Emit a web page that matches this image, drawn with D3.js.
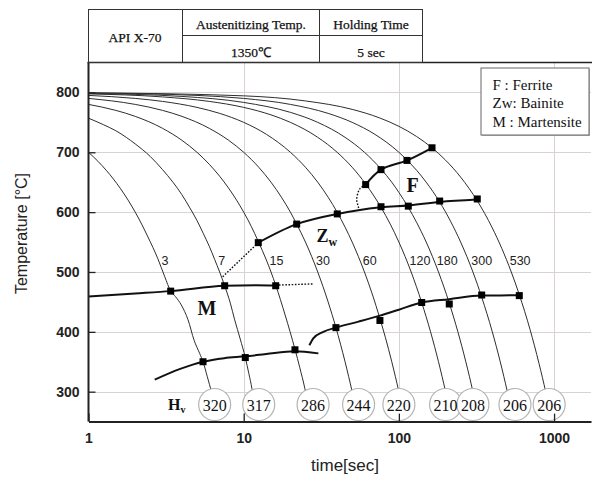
<!DOCTYPE html>
<html>
<head>
<meta charset="utf-8">
<script src="https://cdn.jsdelivr.net/npm/d3@7/dist/d3.min.js"></script>
<style>
  body { margin: 0; background: #fff; }
  svg { display: block; }
</style>
</head>
<body>
<svg id="chart" width="592" height="478"></svg>
<script>
// ---- CCT diagram data: time [s], temperature [°C] ----
const timeTicks = [1, 10, 100, 1000];
const tempTicks = [300, 400, 500, 600, 700, 800];

// cooling-curve names (t8/5 in seconds) and the Vickers hardness of each
const rateLabels = ["3", "7", "15", "30", "60", "120", "180", "300", "530"];
const hardness = [320, 317, 286, 244, 220, 210, 208, 206, 206];
const hardnessAt = [6.5, 12.5, 28, 55, 100, 200, 300, 560, 930];

// cooling curves
const cool3 = [[1,700],[1.15,685],[1.3,670],[1.45,655],[1.6,640],[1.8,620],[2,600],[2.2,580],[2.4,560],[2.6,541],[2.8,522],[3.1,492],[3.385,468],[3.63,459],[3.96,445],[4.38,420],[4.79,386],[5.2,364],[5.47,350],[5.83,325],[6.2,300],[6.4,288]];
const cool7 = [[1,757],[1.25,746],[1.5,736],[1.75,725],[2,714],[2.5,693],[3,671],[3.5,650],[4,629],[4.5,607],[5,586],[5.5,564],[6,543],[6.5,521],[7,500],[7.54,477],[8.2,448],[8.75,420],[9.5,388],[10.24,357],[10.8,330],[11.3,305],[11.5,292]];
const cool15 = [[1,780],[1.5,770],[2,760],[3,740],[4,720],[5,700],[6,680],[7,660],[8,640],[9,620],[10,600],[11.2,576],[12.42,551],[14,520],[15,500],[16.08,478],[18.5,428],[21.4,371],[23,340],[24.8,305],[25.4,292]];
const cool30 = [[1,790],[2,780],[3,770],[4,760],[6,740],[8,720],[10,700],[12.5,675],[15,650],[17.5,625],[20,600],[21.95,580],[25,550],[30,500],[35,450],[39.3,407],[45,350],[50,300],[51.2,288]];
const cool60 = [[1,795],[2,790],[3,785],[5,775],[7,765],[10,750],[14,730],[20,700],[25,675],[30,650],[35,625],[40.1,599.5],[45,575],[50,550],[60,500],[67,465],[75.5,422],[82,390],[90,350],[100,300],[102.4,288]];
const cool120 = [[1,797.5],[3,792.5],[6,785],[10,775],[15,762.5],[20,750],[30,725],[40,700],[50,675],[61.1,647],[76.7,608],[88,580],[100,550],[120,500],[140.3,449],[160,400],[180,350],[200,300],[204.8,288]];
const cool180 = [[1,798.3],[4,793.3],[10,783.3],[20,766.7],[30,750],[45,725],[60,700],[76.7,672],[90,650],[100,633],[115,608],[130,583],[150,550],[180,500],[211.2,448],[240,400],[270,350],[300,300],[307,288]];
const cool300 = [[1,799],[5,795],[10,790],[20,780],[35,765],[50,750],[70,730],[100,700],[112.8,687],[130,670],[150,650],[183.2,617],[215,585],[250,550],[300,500],[341.7,458],[400,400],[450,350],[500,300],[512,288]];
const cool530 = [[1,799.4],[10,794.3],[25,785.8],[50,771.7],[75,757.5],[100,743.4],[130,726.4],[163.5,707.5],[200,686.8],[250,658.5],[320,618.9],[400,573.6],[460,539.6],[530,500],[597,462],[700,404],[800,347],[883,300],[904,288]];
const coolingCurves = [cool3, cool7, cool15, cool30, cool60, cool120, cool180, cool300, cool530];

// transformation lines
const msLine = [[1,459],[2,464],[3.385,468],[7.54,477],[12,478],[16.08,477.5]];
const msDotted = [[16.08,478],[28,480]];
const mfLine = [[2.67,320],[3.9,338],[5.47,350],[7.5,356],[10.24,359],[14,363],[21.4,367.5],[30.3,364]];
const zwStartLine = [[12.42,549],[21.95,580],[40.1,597],[76.7,608],[115,611],[183.2,617],[320,621]];
const zwDotted = [[7.32,492],[12.42,549]];
const fStartLine = [[61.1,646],[76.7,671],[112.8,686.4],[163.5,707.5]];
const fDotted = [[61.1,646],[56.5,640],[54.8,634],[53.5,620],[54.8,609],[55.5,603]];
const bfLine = [[26.5,377.5],[28.1,389],[32.6,400],[39.3,407],[55,417],[75.5,427],[100,437],[140.3,449],[211,454.5],[341.7,460.5],[597,461]];

// measured transformation points
const msPts = [[3.385,468],[7.54,477],[16.08,477]];
const mfPts = [[5.47,350],[10.24,357],[21.4,370]];
const zwPts = [[12.42,549],[21.95,580],[40.1,597]];
const fsPts = [[61.1,646],[76.7,671],[112.8,686.4],[163.5,707.5]];
const fePts = [[76.7,609],[115,610],[183.2,618.5],[320,622]];
const bfPts = [[39.3,407],[75.5,419],[140.3,449],[211.2,446.5],[341.7,461.5],[597,460.5]];

// ---- layout ----
const svg = d3.select("#chart");
const plotL = 88.5, plotR = 591, plotT = 62.5, plotB = 421.6;
const x = d3.scaleLog().domain([1, 1730]).range([plotL, plotR]);
const y = d3.scaleLinear().domain([250, 850]).range([plotB, plotT]);

const sans = "'Liberation Sans', Arial, sans-serif";
const serif = "'Liberation Serif', 'Times New Roman', serif";

svg.append("rect").attr("width", 592).attr("height", 478).attr("fill", "#fff");

// grid
const grid = svg.append("g").attr("stroke", "#d8d2d8").attr("stroke-width", 1);
grid.selectAll("line.v").data(timeTicks.slice(1)).join("line").attr("class", "v")
  .attr("x1", d => Math.round(x(d)) + 0.5).attr("x2", d => Math.round(x(d)) + 0.5)
  .attr("y1", plotT).attr("y2", plotB);
grid.selectAll("line.h").data(tempTicks).join("line").attr("class", "h")
  .attr("x1", plotL).attr("x2", plotR)
  .attr("y1", d => Math.round(y(d)) + 0.5).attr("y2", d => Math.round(y(d)) + 0.5);

const smooth = d3.line().x(d => x(d[0])).y(d => y(d[1])).curve(d3.curveMonotoneX);
const loose = d3.line().x(d => x(d[0])).y(d => y(d[1])).curve(d3.curveCatmullRom);
const straight = d3.line().x(d => x(d[0])).y(d => y(d[1]));

// cooling curves
svg.append("g").selectAll("path").data(coolingCurves).join("path")
  .attr("d", smooth).attr("fill", "none").attr("stroke", "#2e2e2e").attr("stroke-width", 1);

// hardness circles
const hv = svg.append("g");
const rowY = 404.5;
hv.selectAll("circle").data(hardness).join("circle")
  .attr("cx", (d, i) => x(hardnessAt[i])).attr("cy", rowY).attr("r", 16)
  .attr("fill", "#fff").attr("stroke", "#b4b4b4").attr("stroke-width", 1.2);
hv.selectAll("text").data(hardness).join("text")
  .attr("x", (d, i) => x(hardnessAt[i])).attr("y", rowY + 6)
  .attr("text-anchor", "middle").attr("font-family", serif).attr("font-size", 16)
  .attr("fill", "#111").text(d => d);
const hvTitle = svg.append("text").attr("x", x(3.25)).attr("y", rowY + 5)
  .attr("font-family", serif).attr("font-weight", "bold").attr("font-size", 16).attr("fill", "#111");
hvTitle.append("tspan").text("H");
hvTitle.append("tspan").attr("font-size", 10).attr("dy", 3).text("v");

// transformation lines
const bold = svg.append("g").attr("fill", "none").attr("stroke", "#111").attr("stroke-width", 2);
[msLine, mfLine, bfLine].forEach(l => bold.append("path").attr("d", smooth(l)));
bold.append("path").attr("d", loose(zwStartLine));
bold.append("path").attr("d", loose(fStartLine));

const dots = svg.append("g").attr("fill", "none").attr("stroke", "#111")
  .attr("stroke-width", 1.4).attr("stroke-dasharray", "1.6,1.6");
dots.append("path").attr("d", straight(msDotted));
dots.append("path").attr("d", straight(zwDotted));
dots.append("path").attr("d", loose(fDotted));

// markers
const allPts = [].concat(msPts, mfPts, zwPts, fsPts, fePts, bfPts);
svg.append("g").selectAll("rect").data(allPts).join("rect")
  .attr("x", d => x(d[0]) - 3.5).attr("y", d => y(d[1]) - 3.5)
  .attr("width", 7).attr("height", 7).attr("fill", "#000");

// curve names next to each curve
function xAtTemp(pts, T) {
  for (let i = 1; i < pts.length; i++) {
    const a = pts[i - 1], b = pts[i];
    if ((a[1] - T) * (b[1] - T) <= 0) {
      const f = (a[1] - T) / (a[1] - b[1]);
      return x(a[0]) + f * (x(b[0]) - x(a[0]));
    }
  }
  return x(pts[0][0]);
}
const labelT = 519;
svg.append("g").selectAll("text").data(rateLabels).join("text")
  .attr("x", (d, i) => xAtTemp(coolingCurves[i], labelT) + 3)
  .attr("y", y(labelT) + 4.5)
  .attr("font-family", sans).attr("font-size", 12.5).attr("fill", "#222")
  .text(d => d);

// phase region names
svg.append("text").attr("x", x(122.4)).attr("y", y(634)).attr("text-anchor", "middle")
  .attr("font-family", serif).attr("font-weight", "bold").attr("font-size", 20).attr("fill", "#111").text("F");
svg.append("text").attr("x", x(5.8)).attr("y", y(428)).attr("text-anchor", "middle")
  .attr("font-family", serif).attr("font-weight", "bold").attr("font-size", 20).attr("fill", "#111").text("M");
const zw = svg.append("text").attr("x", x(29.5)).attr("y", y(550.5))
  .attr("font-family", serif).attr("font-weight", "bold").attr("font-size", 18).attr("fill", "#111");
zw.append("tspan").text("Z");
zw.append("tspan").attr("font-size", 12).attr("dy", 4).text("w");

// axes
const yAxis = d3.axisLeft(y).tickValues(tempTicks).tickSizeInner(-7).tickSizeOuter(0).tickPadding(9);
const xAxis = d3.axisBottom(x).tickValues(timeTicks).tickFormat(d3.format("d"))
  .tickSizeInner(-8).tickSizeOuter(0).tickPadding(11);

const gy = svg.append("g").attr("transform", `translate(${plotL},0)`).call(yAxis);
const gx = svg.append("g").attr("transform", `translate(0,${plotB})`).call(xAxis);
[gy, gx].forEach(g => {
  g.select(".domain").attr("stroke", "#222").attr("stroke-width", 2);
  g.selectAll(".tick line").attr("stroke", "#222").attr("stroke-width", 1.3);
  g.selectAll(".tick text").attr("font-family", sans).attr("font-weight", "bold")
    .attr("font-size", 14).attr("fill", "#222");
});
gy.select(".domain").attr("d", `M0,${plotT}V${plotB}`);

// top frame
svg.append("line").attr("x1", plotL - 1).attr("x2", 592).attr("y1", plotT).attr("y2", plotT)
  .attr("stroke", "#222").attr("stroke-width", 1.5);

// axis titles
svg.append("text").attr("transform", "translate(27,233.5) rotate(-90)")
  .attr("text-anchor", "middle").attr("font-family", sans).attr("font-size", 16)
  .attr("fill", "#222").text("Temperature [°C]");
svg.append("text").attr("x", 345).attr("y", 471)
  .attr("text-anchor", "middle").attr("font-family", sans).attr("font-size", 17)
  .attr("fill", "#222").text("time[sec]");

// legend
const lg = svg.append("g");
lg.append("rect").attr("x", 482).attr("y", 69).attr("width", 108).attr("height", 67)
  .attr("fill", "#b8b8b8");
lg.append("rect").attr("x", 481).attr("y", 68).attr("width", 108).attr("height", 67)
  .attr("fill", "#fff").attr("stroke", "#666").attr("stroke-width", 1);
["F : Ferrite", "Zw: Bainite", "M : Martensite"].forEach((t, i) => {
  lg.append("text").attr("x", 492.5).attr("y", 89.5 + i * 18.5)
    .attr("font-family", serif).attr("font-size", 15).attr("fill", "#111").text(t);
});

// condition table
const tb = svg.append("g").attr("stroke", "#333").attr("stroke-width", 1).attr("fill", "none");
tb.append("rect").attr("x", 88.5).attr("y", 9.5).attr("width", 334).attr("height", 53);
tb.append("line").attr("x1", 182.5).attr("x2", 182.5).attr("y1", 9.5).attr("y2", 62.5);
tb.append("line").attr("x1", 319.5).attr("x2", 319.5).attr("y1", 9.5).attr("y2", 62.5);
tb.append("line").attr("x1", 182.5).attr("x2", 422.5).attr("y1", 35.5).attr("y2", 35.5);
const cells = [
  ["API X-70", 135, 41.5],
  ["Austenitizing Temp.", 251, 29],
  ["1350\u2103", 251, 56.5],
  ["Holding Time", 371, 29],
  ["5 sec", 371, 56.5]
];
svg.append("g").selectAll("text").data(cells).join("text")
  .attr("x", d => d[1]).attr("y", d => d[2]).attr("text-anchor", "middle")
  .attr("font-family", serif).attr("font-size", 13.5).attr("fill", "#111")
  .attr("stroke", "#111").attr("stroke-width", 0.25)
  .text(d => d[0]);
</script>
</body>
</html>
